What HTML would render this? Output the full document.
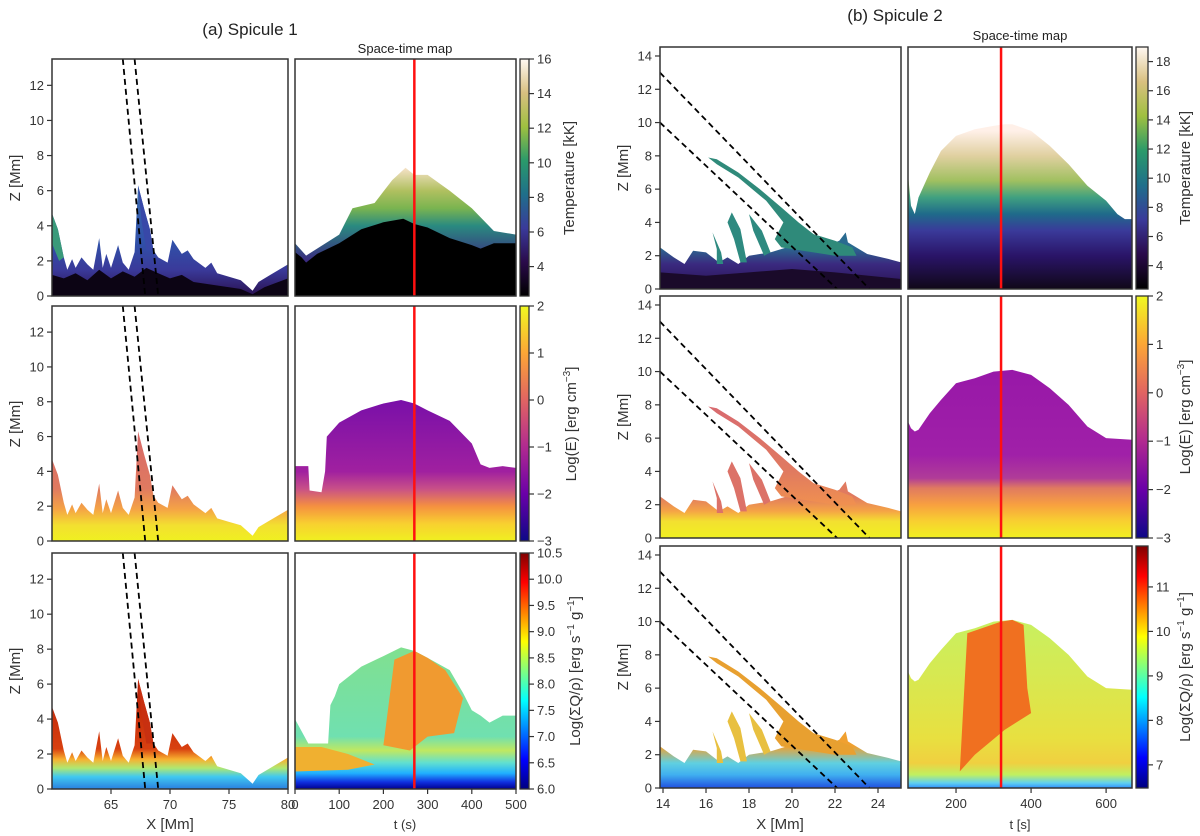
<!DOCTYPE html>
<html><head><meta charset="utf-8"><style>
html,body{margin:0;padding:0;background:#fff;}
svg{display:block;font-family:"Liberation Sans","DejaVu Sans",sans-serif;}
</style></head><body>
<svg id="fig" width="1200" height="836" viewBox="0 0 1200 836" xmlns="http://www.w3.org/2000/svg">
<defs id="defs"></defs>
<text x="250" y="35" font-size="17" fill="#222" text-anchor="middle">(a) Spicule 1</text>
<text x="405" y="53" font-size="13" fill="#222" text-anchor="middle">Space-time map</text>
<text x="895" y="21" font-size="17" fill="#222" text-anchor="middle">(b) Spicule 2</text>
<text x="1020" y="40" font-size="13" fill="#222" text-anchor="middle">Space-time map</text>
</svg>
<script>
// ---------- data ----------
const s1XTicks=[65,70,75,80];
const s1ZTicks=[0,2,4,6,8,10,12];
const s1TTicks=[0,100,200,300,400,500];
const s2XTicks=[14,16,18,20,22,24];
const s2ZTicks=[0,2,4,6,8,10,12,14];
const s2TTicks=[200,400,600];
const s1RedT=270;
const s2RedT=320;
const cbTemp1Ticks=[4,6,8,10,12,14,16];
const cbE1Ticks=[-3,-2,-1,0,1,2];
const cbQ1Ticks=[6.0,6.5,7.0,7.5,8.0,8.5,9.0,9.5,10.0,10.5];
const cbTemp2Ticks=[4,6,8,10,12,14,16,18];
const cbE2Ticks=[-3,-2,-1,0,1,2];
const cbQ2Ticks=[7,8,9,10,11];
const s1Dash1=[[66.0,13.5],[67.9,0]];
const s1Dash2=[[67.0,13.5],[69.0,0]];
const s2Dash1=[[13.86,13],[23.6,0]];
const s2Dash2=[[13.86,10],[22.1,0]];
const s1Env=[[60,4.7],[60.5,3.8],[61,2.2],[61.3,1.5],[61.7,2.1],[62,1.6],[62.5,2.2],[63,1.8],[63.5,1.5],[64,3.3],[64.3,1.6],[64.6,2.4],[65,1.6],[65.6,2.9],[66,1.9],[66.5,1.5],[67,2.5],[67.3,6.3],[67.8,5.0],[68.3,3.8],[68.6,2.6],[69,2.2],[69.8,1.9],[70.2,3.2],[71,2.4],[71.5,2.6],[72,2.1],[73,1.6],[73.5,1.9],[74,1.3],[75,1.1],[76,0.9],[77,0.3],[77.5,0.8],[78.5,1.2],[80,1.8],[80,0],[60,0]];
const s1Dark=[[60,1.2],[61,1.0],[62,1.3],[63,0.9],[64,1.5],[65,1.0],[66,1.4],[67,1.1],[68,1.6],[69,1.3],[70,1.0],[71,1.2],[72,0.8],[74,0.6],[76,0.4],[77,0.1],[78,0.5],[80,1.0],[80,0],[60,0]];
const s1Strip=[[60,4.7],[60.5,3.8],[61,2.2],[60.6,2.0],[60,3.0]];
const s1Spike=[[67.3,6.3],[67.8,5.0],[68.3,3.8],[68.6,2.6],[68.0,2.6],[67.6,4.2]];
const s1TempBlack=[[0,2.5],[15,2.2],[25,1.9],[50,2.4],[100,3.0],[150,3.8],[200,4.2],[245,4.4],[270,4.1],[300,3.9],[350,3.3],[400,2.9],[420,2.7],[450,3.0],[500,3.0],[500,0],[0,0]];
const s1TempTop=[[0,3.0],[25,2.3],[50,2.7],[100,3.5],[130,5.0],[180,5.3],[220,6.6],[250,7.3],[270,6.9],[300,6.9],[350,6.0],[400,5.0],[450,3.7],[500,3.5],[500,0],[0,0]];
const s1ETop=[[0,4.3],[30,4.3],[33,2.9],[60,2.8],[68,4.0],[72,6.0],[100,6.8],[150,7.5],[200,7.9],[240,8.1],[270,7.9],[300,7.5],[350,6.9],[400,5.6],[420,4.4],[440,4.2],[470,4.3],[500,4.2],[500,0],[0,0]];
const s1QTop=[[0,4.0],[30,2.6],[75,2.6],[80,4.8],[90,5.3],[100,6.0],[150,7.0],[200,7.6],[240,8.1],[270,7.9],[300,7.5],[350,6.8],[380,5.5],[400,4.5],[420,4.2],[440,3.8],[470,4.2],[500,4.2],[500,0],[0,0]];
const s1QColumn=[[200,2.5],[225,7.4],[270,7.9],[300,7.5],[340,6.8],[380,5.2],[360,3.2],[300,3.0],[260,2.2]];
const s1QLeft=[[0,2.4],[60,2.4],[120,2.0],[180,1.4],[120,1.1],[0,1.0]];
const s2Base=[[13.86,2.5],[14.5,1.9],[15,1.5],[15.4,2.3],[16,2.2],[16.6,1.6],[17,1.9],[17.5,1.5],[18,2.0],[19,2.2],[20,2.6],[21,2.5],[21.6,2.6],[22.2,2.9],[22.5,3.4],[22.6,2.8],[23.5,2.1],[24.5,1.8],[25.07,1.6],[25.07,0],[13.86,0]];
const s2Fing1=[[16.3,3.4],[16.7,2.2],[16.8,1.5],[16.5,1.5],[16.5,2.4]];
const s2Fing2=[[17.2,4.6],[17.6,3.6],[17.9,1.6],[17.6,1.6],[17.3,3.0],[17.0,4.0]];
const s2Fing3=[[18.0,4.5],[18.6,3.5],[19.0,2.2],[18.7,2.0],[18.2,3.5]];
const s2Main=[[16.1,7.9],[16.5,7.8],[17.5,7.0],[18.5,6.0],[19.5,4.9],[20.3,4.0],[21,3.3],[22,2.9],[22.8,2.5],[23,2.0],[22,2.0],[21,2.2],[20,2.4],[19.5,2.5],[19.2,3.0],[19.6,4.0],[18.8,5.3],[17.5,6.7],[16.5,7.5]];
const s2Dark=[[13.86,1.0],[16,0.8],[18,1.0],[20,1.2],[22,1.0],[25.07,0.6],[25.07,0],[13.86,0]];
const s2TempTop=[[72,6.9],[80,5.0],[90,4.5],[100,5.5],[130,7.0],[160,8.3],[200,9.2],[250,9.6],[300,9.8],[330,9.9],[350,9.9],[400,9.5],[450,8.6],[500,7.5],[550,6.2],[600,5.3],[630,4.5],[650,4.2],[669,4.2],[669,0],[72,0]];
const s2ETop=[[72,7.0],[80,6.6],[90,6.4],[100,6.5],[130,7.5],[160,8.3],[200,9.3],[250,9.6],[300,10.0],[350,10.1],[400,9.8],[450,9.0],[500,8.0],[550,6.7],[600,6.0],[669,5.9],[669,0],[72,0]];
const s2QColumn=[[210,1.0],[230,9.3],[320,10.0],[350,10.1],[380,9.8],[390,6.0],[400,4.5],[330,3.5],[250,2.0]];

// ---------- helpers ----------
const NS='http://www.w3.org/2000/svg';
const svg=document.getElementById('fig');
const defs=document.getElementById('defs');
function mk(tag,attrs,parent){const e=document.createElementNS(NS,tag);for(const k in attrs)e.setAttribute(k,attrs[k]);(parent||svg).appendChild(e);return e;}
function scale(d0,d1,r0,r1){return v=>r0+(v-d0)/(d1-d0)*(r1-r0);}
let gid=0;
function zgrad(sy,stops){
  const id='g'+(gid++);
  const zs=stops.map(s=>s[0]);const z0=Math.min(...zs),z1=Math.max(...zs);
  const g=mk('linearGradient',{id:id,gradientUnits:'userSpaceOnUse',x1:0,x2:0,y1:sy(z0),y2:sy(z1)},defs);
  stops.forEach(s=>mk('stop',{offset:(s[0]-z0)/(z1-z0),'stop-color':s[1]},g));
  return 'url(#'+id+')';
}
function panel(x0,y0,x1,y1,xd,yd,name){
  const g=mk('g',{});
  
  
  const cid='c'+(gid++);
  const cp=mk('clipPath',{id:cid},defs);mk('rect',{x:x0,y:y0,width:x1-x0,height:y1-y0},cp);
  const inner=mk('g',{'clip-path':'url(#'+cid+')'},g);
  return {g,inner,x0,y0,x1,y1,sx:scale(xd[0],xd[1],x0,x1),sy:scale(yd[0],yd[1],y1,y0)};
}
function poly(P,pts,fill,name){
  const d=pts.map((p,i)=>(i?'L':'M')+P.sx(p[0]).toFixed(1)+','+P.sy(p[1]).toFixed(1)).join('')+'Z';
  const e=mk('path',{d:d,fill:fill},P.inner);
  
  
  return e;
}
function dash(P,pts,name){
  const e=mk('line',{x1:P.sx(pts[0][0]),y1:P.sy(pts[0][1]),x2:P.sx(pts[1][0]),y2:P.sy(pts[1][1]),stroke:'#000','stroke-width':1.8,'stroke-dasharray':'6,4'},P.inner);
  
  
}
function redLine(P,t,name){
  const e=mk('line',{x1:P.sx(t),x2:P.sx(t),y1:P.y0,y2:P.y1,stroke:'#ff1010','stroke-width':2.5},P.inner);
  
  
}
function frame(P){mk('rect',{x:P.x0,y:P.y0,width:P.x1-P.x0,height:P.y1-P.y0,fill:'none',stroke:'#333','stroke-width':1.5},P.g);}
function yTicks(P,ticks,name){
  ticks.forEach(v=>{const y=P.sy(v);
    mk('line',{x1:P.x0-5,x2:P.x0,y1:y,y2:y,stroke:'#333','stroke-width':1.2},P.g);
    const t=mk('text',{x:P.x0-8,y:y+4.5,'font-size':13,fill:'#333','text-anchor':'end'},P.g);t.textContent=v;
    
    });
}
function xTicks(P,ticks,name){
  ticks.forEach(v=>{const x=P.sx(v);
    mk('line',{x1:x,x2:x,y1:P.y1,y2:P.y1+5,stroke:'#333','stroke-width':1.2},P.g);
    const t=mk('text',{x:x,y:P.y1+20,'font-size':13,fill:'#333','text-anchor':'middle'},P.g);t.textContent=v;
    
    });
}
function label(x,y,txt,rot,size,name){
  const t=mk('text',{x:x,y:y,'font-size':size,fill:'#333','text-anchor':'middle',transform:rot?'rotate(-90 '+x+' '+y+')':''});
  t.innerHTML=txt;
  
  
}
function colorbar(x0,y0,x1,y1,dom,stops,ticks,fmt,name){
  const sy=scale(dom[0],dom[1],y1,y0);
  const id='g'+(gid++);
  const g=mk('linearGradient',{id:id,x1:0,x2:0,y1:1,y2:0},defs);
  stops.forEach((c,i)=>mk('stop',{offset:i/(stops.length-1),'stop-color':c},g));
  const r=mk('rect',{x:x0,y:y0,width:x1-x0,height:y1-y0,fill:'url(#'+id+')',stroke:'#333','stroke-width':1.3});
  
  
  ticks.forEach(v=>{const y=sy(v);
    mk('line',{x1:x1,x2:x1+5,y1:y,y2:y,stroke:'#333','stroke-width':1.2});
    const t=mk('text',{x:x1+8,y:y+4.5,'font-size':13,fill:'#333'});t.textContent=fmt(v);
    
    });
}
const minus=v=>String(v).replace('-','\u2212');
const f1=v=>v.toFixed(1);
const TEMP=['#000000','#2a0a4a','#3a3a9a','#1f6f8b','#2a9a6a','#9fc040','#d9c080','#fff8f2'];
const PLASMA=['#0d0887','#6a00a8','#b12a90','#e16462','#fca636','#f0f921'];
const JET=['#00007f','#0000ff','#0080ff','#00ffff','#80ff80','#ffff00','#ff8000','#ff0000','#7f0000'];

const L={x0:52,x1:288,s0:295,s1:516,c0:520,c1:529};
const Lrows=[[59,296],[306,541],[553,789]];
const R={x0:660,x1:901,s0:908,s1:1132,c0:1136,c1:1148};
const Rrows=[[47,289],[296,538],[546,788]];
const s1Xd=[60,80],s1Zd=[0,13.5],s1Td=[0,500];
const s2Xd=[13.86,25.07],s2Zd=[0,14.54],s2Td=[72,669];

// ---------- Spicule 1 ----------
let P=panel(L.x0,Lrows[0][0],L.x1,Lrows[0][1],s1Xd,s1Zd,'s1-temp-xz');
poly(P,s1Env,zgrad(P.sy,[[0,'#2a1050'],[1.5,'#3a3a9a'],[3,'#3050a8'],[6,'#3a6ab0']]),'s1-temp-material');
poly(P,s1Strip,'#3a9a7a','s1-temp-strip');
poly(P,s1Spike,'#3848a8','s1-temp-spike');
poly(P,s1Dark,'#0c0414','s1-temp-core');
dash(P,s1Dash1,'s1-slit-left');dash(P,s1Dash2,'s1-slit-right');
frame(P);yTicks(P,s1ZTicks,'s1-z-tick');
P=panel(L.s0,Lrows[0][0],L.s1,Lrows[0][1],s1Td,s1Zd,'s1-temp-spacetime');
poly(P,s1TempTop,zgrad(P.sy,[[2,'#3a2a80'],[4,'#2a8a80'],[5,'#7ab450'],[6,'#b0c060'],[7.3,'#f6e2c8']]),'s1-temp-st-hot');
poly(P,s1TempBlack,'#000','s1-temp-st-cold');
redLine(P,s1RedT,'s1-temp-time-marker');frame(P);
colorbar(L.c0,Lrows[0][0],L.c1,Lrows[0][1],[2.3,16],TEMP,cbTemp1Ticks,minus,'s1-temp-colorbar');

P=panel(L.x0,Lrows[1][0],L.x1,Lrows[1][1],s1Xd,s1Zd,'s1-energy-xz');
poly(P,s1Env,zgrad(P.sy,[[0,'#f0f020'],[0.9,'#f3e030'],[1.8,'#f5a545'],[3,'#e07a60'],[6,'#d86a68']]),'s1-energy-material');
dash(P,s1Dash1,'s1-slit-left');dash(P,s1Dash2,'s1-slit-right');
frame(P);yTicks(P,s1ZTicks,'s1-z-tick');
P=panel(L.s0,Lrows[1][0],L.s1,Lrows[1][1],s1Td,s1Zd,'s1-energy-spacetime');
poly(P,s1ETop,zgrad(P.sy,[[0,'#f0f020'],[1,'#f8d030'],[2,'#f59040'],[3,'#c85088'],[4,'#a020a0'],[8,'#7a10a8']]),'s1-energy-st');
redLine(P,s1RedT,'s1-energy-time-marker');frame(P);
colorbar(L.c0,Lrows[1][0],L.c1,Lrows[1][1],[-3,2],PLASMA,cbE1Ticks,minus,'s1-energy-colorbar');

P=panel(L.x0,Lrows[2][0],L.x1,Lrows[2][1],s1Xd,s1Zd,'s1-heating-xz');
poly(P,s1Env,zgrad(P.sy,[[0,'#2a80e0'],[0.7,'#40c8f0'],[1.2,'#b0e870'],[1.7,'#f8b030'],[2.3,'#d84010'],[6,'#b82008']]),'s1-heating-material');
poly(P,s1Spike,'#c83010','s1-heating-spike');
dash(P,s1Dash1,'s1-slit-left');dash(P,s1Dash2,'s1-slit-right');
frame(P);yTicks(P,s1ZTicks,'s1-z-tick');xTicks(P,s1XTicks,'s1-x-tick');
P=panel(L.s0,Lrows[2][0],L.s1,Lrows[2][1],s1Td,s1Zd,'s1-heating-spacetime');
poly(P,s1QTop,zgrad(P.sy,[[0,'#000090'],[0.4,'#1030e0'],[0.9,'#20b0ff'],[1.5,'#60e0d0'],[2.2,'#c0e860'],[3,'#70e0b0'],[8,'#80e090']]),'s1-heating-st');
poly(P,s1QLeft,'#f0b030','s1-heating-st-left');
poly(P,s1QColumn,'#f09a30','s1-heating-st-column');
redLine(P,s1RedT,'s1-heating-time-marker');frame(P);xTicks(P,s1TTicks,'s1-t-tick');
colorbar(L.c0,Lrows[2][0],L.c1,Lrows[2][1],[6,10.5],JET,cbQ1Ticks,f1,'s1-heating-colorbar');

// ---------- Spicule 2 ----------
P=panel(R.x0,Rrows[0][0],R.x1,Rrows[0][1],s2Xd,s2Zd,'s2-temp-xz');
poly(P,s2Base,zgrad(P.sy,[[0,'#2a1050'],[1.5,'#3a2a80'],[2.5,'#2a6a90']]),'s2-temp-base');
[s2Fing1,s2Fing2,s2Fing3].forEach((f,i)=>poly(P,f,'#2e8a80','s2-temp-finger-'+(i+1)));
poly(P,s2Main,'#2f8a7a','s2-temp-main-spicule');
poly(P,s2Dark,'#1a0a2a','s2-temp-core');
dash(P,s2Dash1,'s2-slit-upper');dash(P,s2Dash2,'s2-slit-lower');
frame(P);yTicks(P,s2ZTicks,'s2-z-tick');
P=panel(R.s0,Rrows[0][0],R.s1,Rrows[0][1],s2Td,s2Zd,'s2-temp-spacetime');
poly(P,s2TempTop,zgrad(P.sy,[[0,'#100818'],[2,'#2a1468'],[3.5,'#3a3a9a'],[4.5,'#1f6a8a'],[5.5,'#40a080'],[6.5,'#a0c060'],[8,'#e0d0a0'],[9.5,'#fff0e8']]),'s2-temp-st');
redLine(P,s2RedT,'s2-temp-time-marker');frame(P);
colorbar(R.c0,Rrows[0][0],R.c1,Rrows[0][1],[2.4,19],TEMP,cbTemp2Ticks,minus,'s2-temp-colorbar');

P=panel(R.x0,Rrows[1][0],R.x1,Rrows[1][1],s2Xd,s2Zd,'s2-energy-xz');
poly(P,s2Base,zgrad(P.sy,[[0,'#f0f020'],[1,'#f3e030'],[1.6,'#f5a545'],[2.5,'#e07a60']]),'s2-energy-base');
[s2Fing1,s2Fing2,s2Fing3].forEach((f,i)=>poly(P,f,'#dc7268','s2-energy-finger-'+(i+1)));
poly(P,s2Main,zgrad(P.sy,[[2,'#f09050'],[4,'#e07a60'],[8,'#d86a70']]),'s2-energy-main-spicule');
dash(P,s2Dash1,'s2-slit-upper');dash(P,s2Dash2,'s2-slit-lower');
frame(P);yTicks(P,s2ZTicks,'s2-z-tick');
P=panel(R.s0,Rrows[1][0],R.s1,Rrows[1][1],s2Td,s2Zd,'s2-energy-spacetime');
poly(P,s2ETop,zgrad(P.sy,[[0,'#f0f020'],[1,'#f8d030'],[2,'#f8a040'],[3,'#e07a60'],[3.6,'#b03c98'],[5,'#a020a8'],[10,'#9818a8']]),'s2-energy-st');
redLine(P,s2RedT,'s2-energy-time-marker');frame(P);
colorbar(R.c0,Rrows[1][0],R.c1,Rrows[1][1],[-3,2],PLASMA,cbE2Ticks,minus,'s2-energy-colorbar');

P=panel(R.x0,Rrows[2][0],R.x1,Rrows[2][1],s2Xd,s2Zd,'s2-heating-xz');
poly(P,s2Base,zgrad(P.sy,[[0,'#2050e0'],[0.8,'#40b0f0'],[1.5,'#60d0e0'],[2.5,'#f0a030']]),'s2-heating-base');
[s2Fing1,s2Fing2,s2Fing3].forEach((f,i)=>poly(P,f,'#e8c040','s2-heating-finger-'+(i+1)));
poly(P,s2Main,'#e8a030','s2-heating-main-spicule');
dash(P,s2Dash1,'s2-slit-upper');dash(P,s2Dash2,'s2-slit-lower');
frame(P);yTicks(P,s2ZTicks,'s2-z-tick');xTicks(P,s2XTicks,'s2-x-tick');
P=panel(R.s0,Rrows[2][0],R.s1,Rrows[2][1],s2Td,s2Zd,'s2-heating-spacetime');
poly(P,s2ETop,zgrad(P.sy,[[0,'#3090ff'],[0.3,'#60d0f0'],[0.8,'#c0f060'],[1.5,'#f0d040'],[3,'#e8e040'],[10,'#c8f060']]),'s2-heating-st');
poly(P,s2QColumn,'#f07020','s2-heating-st-column');
redLine(P,s2RedT,'s2-heating-time-marker');frame(P);xTicks(P,s2TTicks,'s2-t-tick');
colorbar(R.c0,Rrows[2][0],R.c1,Rrows[2][1],[6.48,11.92],JET,cbQ2Ticks,String,'s2-heating-colorbar');

// ---------- axis labels ----------
[[20,178],[20,424],[20,671]].forEach(p=>label(p[0],p[1],'Z [Mm]',true,15,'s1-z-axis-title'));
[[628,168],[628,417],[628,667]].forEach(p=>label(p[0],p[1],'Z [Mm]',true,15,'s2-z-axis-title'));
label(170,829,'X [Mm]',false,15,'s1-x-axis-title');
label(405,829,'t (s)',false,13,'s1-t-axis-title');
label(780,829,'X [Mm]',false,15,'s2-x-axis-title');
label(1020,829,'t [s]',false,13,'s2-t-axis-title');
label(574,178,'Temperature [kK]',true,15,'s1-temp-colorbar-title');
label(576,424,'Log(E) [erg cm<tspan dy="-6" font-size="10">−3</tspan><tspan dy="6">]</tspan>',true,15,'s1-energy-colorbar-title');
label(580,671,'Log(ΣQ/ρ) [erg s<tspan dy="-6" font-size="10">−1</tspan><tspan dy="6"> g</tspan><tspan dy="-6" font-size="10">−1</tspan><tspan dy="6">]</tspan>',true,15,'s1-heating-colorbar-title');
label(1190,168,'Temperature [kK]',true,15,'s2-temp-colorbar-title');
label(1190,417,'Log(E) [erg cm<tspan dy="-6" font-size="10">−3</tspan><tspan dy="6">]</tspan>',true,15,'s2-energy-colorbar-title');
label(1190,667,'Log(ΣQ/ρ) [erg s<tspan dy="-6" font-size="10">−1</tspan><tspan dy="6"> g</tspan><tspan dy="-6" font-size="10">−1</tspan><tspan dy="6">]</tspan>',true,15,'s2-heating-colorbar-title');
</script>
</body></html>
